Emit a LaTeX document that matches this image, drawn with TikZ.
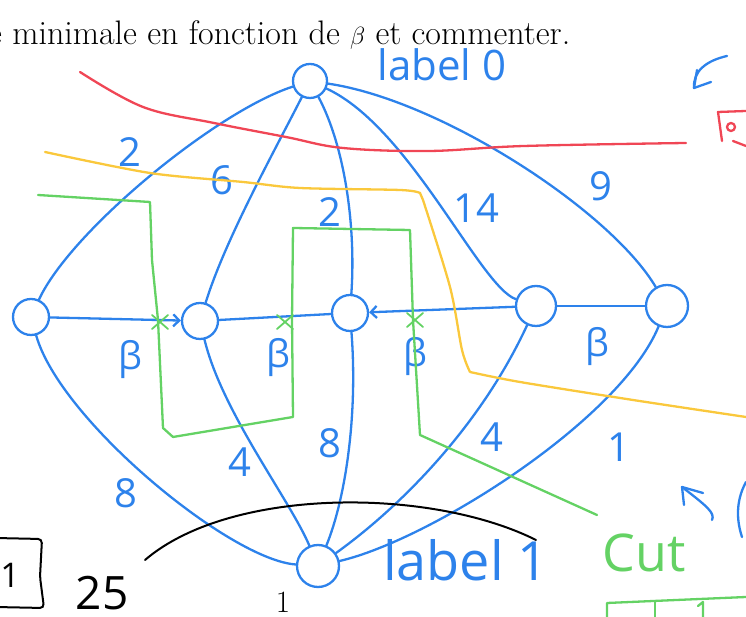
\documentclass[tikz,border=0pt]{standalone}
\usepackage{fontspec}
\newfontfamily\hand{Open Sans}
\usetikzlibrary{arrows.meta}
\definecolor{penblue}{RGB}{45,130,235}
\definecolor{penred}{RGB}{240,70,85}
\definecolor{penyellow}{RGB}{250,200,60}
\definecolor{pengreen}{RGB}{100,210,100}
\newcommand{\pen}[1]{\hand\fontsize{#1}{#1}\selectfont}
\tikzset{
	vertex/.style={draw=penblue, line width=2.3pt, circle, minimum size=36pt, inner sep=0pt},
	edge/.style={penblue, line width=2.3pt, line cap=round},
	wt/.style={text=penblue, font=\pen{40}, inner sep=0pt},
	cutline/.style={line width=2.3pt, line cap=round, line join=round},
	cross/.style={pengreen, line width=1.8pt, line cap=round},
}

\begin{document}
\begin{tikzpicture}[x=1pt, y=1pt, >={Straight Barb[length=6pt, width=12pt]}]
		\clip (0,0) rectangle (746,617);
		% printed page
		\node[anchor=base west, inner sep=0pt, font=\fontsize{34}{40}\selectfont] (txt) at (-12,572) {e minimale en fonction de $\beta$ et commenter.};
		\node[inner sep=0pt, font=\fontsize{31}{36}\selectfont] (pnum) at (283,15) {1};

		% vertices
		\node[vertex, minimum size=34pt] (s) at (310,536) {};
		\node[vertex] (a) at (31,300) {};
		\node[vertex] (b) at (200,296) {};
		\node[vertex] (c) at (350,304) {};
		\node[vertex, minimum size=40pt] (d) at (536,311) {};
		\node[vertex, minimum size=42pt] (e) at (667,311) {};
		\node[vertex, minimum size=42pt] (t) at (318,51) {};
		\node[wt, font=\pen{42}] (l0) at (442,552) {label 0};
		\node[wt, font=\pen{54}] (l1) at (466,57) {label 1};

		% edges from the source
		\draw[edge] (s) .. controls (215,505) and (70,385) .. (a);
		\draw[edge] (s) .. controls (275,467) and (225,377) .. (b);
		\draw[edge] (s) .. controls (345,470) and (356,390) .. (c);
		\draw[edge] (s) .. controls (410,490) and (480,330) .. (d);
		\draw[edge] (s) .. controls (440,517) and (610,407) .. (e);
		% middle row
		\draw[edge, ->] (a) -- (b);
		\draw[edge] (b) -- (c);
		\draw[edge, ->] (d) -- (c);
		\draw[edge] (d) -- (e);
		% edges to the sink
		\draw[edge] (a) .. controls (60,197) and (230,57) .. (t);
		\draw[edge] (b) .. controls (222,205) and (290,117) .. (t);
		\draw[edge] (c) .. controls (358,200) and (345,117) .. (t);
		\draw[edge] (d) .. controls (480,190) and (400,110) .. (t);
		\draw[edge] (e) .. controls (620,197) and (430,77) .. (t);

		% weights
		\node[wt] (w1) at (130,465) {2};
		\node[wt] (w2) at (222,437) {6};
		\node[wt] (w3) at (330,405) {2};
		\node[wt] (w4) at (476,409) {14};
		\node[wt] (w5) at (601,431) {9};
		\node[wt] (w6) at (126,124) {8};
		\node[wt] (w7) at (240,155) {4};
		\node[wt] (w8) at (330,174) {8};
		\node[wt] (w9) at (492,180) {4};
		\node[wt] (w10) at (619,170) {1};
		\node[wt, font=\pen{38}] (p1) at (130,257) {β};
		\node[wt, font=\pen{38}] (p2) at (278,259) {β};
		\node[wt, font=\pen{38}] (p3) at (415,260) {β};
		\node[wt, font=\pen{38}] (p4) at (597,270) {β};

		% cuts
		\draw[cutline, penred] plot[smooth, tension=0.6] coordinates {(80,545) (143,510) (214,494) (286,480) (343,469) (429,466) (524,471) (686,474)};
		\draw[cutline, penyellow] plot[smooth, tension=0.5] coordinates {(45,465) (150,444) (243,435) (300,429) (400,427) (420,424)}
			-- (423,417) plot[smooth, tension=0.5] coordinates {(423,417) (450,330) (462,267) (470,245)}
			plot[smooth, tension=0.5] coordinates {(470,245) (520,235) (633,217) (746,200)};
		\draw[cutline, pengreen] (38,422) -- (150,415) -- (152,357) -- (158,297) -- (163,189) -- (173,180)
			-- (293,200) -- (292,297) -- (293,389) -- (410,387) -- (413,297) -- (420,182) -- (597,102);
		\foreach \cx/\cy in {160/295, 285/295, 415/297} {
				\draw[cross] (\cx-8,\cy-7) -- (\cx+8,\cy+7);
				\draw[cross] (\cx-8,\cy+7) -- (\cx+8,\cy-7);
			}
		\node[text=pengreen, font=\pen{52}, inner sep=0pt] (cut) at (644,64) {Cut};
		\draw[cutline, pengreen] (607,0) -- (607,14) -- (746,20);
		\draw[cutline, pengreen] (655,0) -- (655,16);
		\draw[cutline, pengreen] (703,0) -- (703,15) -- (698,11);

		% black notes
		\draw[line width=2pt, line cap=round] (145,57) .. controls (230,130) and (430,130) .. (536,77);
		\draw[line width=2pt, rounded corners=4pt] (-5,79) -- (42,78) -- (40,40) -- (44,9) -- (-5,10);
		\node[font=\pen{34}, inner sep=0pt] (one) at (10,42) {1};
		\node[font=\pen{46}, inner sep=0pt] (tf) at (102,24) {25};

		% marks on the right
		\draw[edge] (727,561) .. controls (705,556) and (693,545) .. (694,529);
		\draw[edge] (694,529) -- (697,547);
		\draw[edge] (694,529) -- (711,535);
		\draw[edge] (712,97) .. controls (715,104) and (708,110) .. (682,130);
		\draw[edge] (682,130) -- (703,124);
		\draw[edge] (682,130) -- (684,112);
		\draw[edge] (746,135) .. controls (735,115) and (737,95) .. (742,80);
		\draw[cutline, penred] (746,506) -- (718,505) -- (722,476);
		\draw[cutline, penred] (731,490) circle (4);
		\draw[cutline, penred] (733,476) -- (746,471);
	\end{tikzpicture}
\end{document}
